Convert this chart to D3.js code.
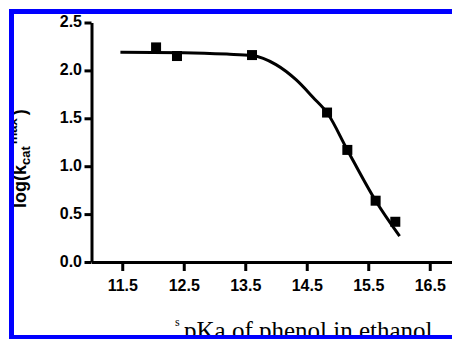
<!DOCTYPE html>
<html>
<head>
<meta charset="utf-8">
<script src="https://cdn.jsdelivr.net/npm/d3@7"></script>
<style>
  body { margin: 0; background: #fff; }
  svg { display: block; }
  .tick text { font-family: "Liberation Sans", Arial, sans-serif; font-weight: bold; font-size: 16px; }
</style>
</head>
<body>
<div id="chart"></div>
<script>
// measured points: pKa in ethanol vs log(kcat max)
const pointX = [12.05, 12.39, 13.61, 14.83, 15.16, 15.62, 15.94];
const pointY = [2.24, 2.15, 2.16, 1.56, 1.17, 0.64, 0.42];

// fitted curve
const curveX = [11.47, 12.5, 13.2, 13.61, 14.0, 14.33, 14.6, 14.84, 15.16, 15.62, 16.01];
const curveY = [2.19, 2.185, 2.17, 2.155, 2.06, 1.9, 1.72, 1.55, 1.17, 0.64, 0.27];

const xTicks = [11.5, 12.5, 13.5, 14.5, 15.5, 16.5];
const yTicks = [0.0, 0.5, 1.0, 1.5, 2.0, 2.5];

const width = 452;
const height = 339;

const svg = d3.select("#chart")
    .append("svg")
    .attr("width", width)
    .attr("height", height);

svg.append("rect").attr("width", width).attr("height", height).attr("fill", "#fff");

const x = d3.scaleLinear().domain([11, 17]).range([91.5, 460.5]);
const y = d3.scaleLinear().domain([0, 2.5]).range([262, 22.5]);

// axes
const yAxis = svg.append("g")
    .attr("transform", "translate(91.5,0)")
    .call(d3.axisLeft(y).tickValues(yTicks).tickFormat(d3.format(".1f")).tickSize(7).tickSizeOuter(0).tickPadding(2.5));

const xAxis = svg.append("g")
    .attr("transform", "translate(0,262)")
    .call(d3.axisBottom(x).tickValues(xTicks).tickFormat(d3.format(".1f")).tickSize(9).tickSizeOuter(0).tickPadding(9));

[xAxis, yAxis].forEach(a => {
    a.select(".domain").attr("stroke", "#000").attr("stroke-width", 3);
    a.selectAll(".tick line").attr("stroke", "#000").attr("stroke-width", 3);
    a.selectAll(".tick text").attr("fill", "#000");
});
yAxis.selectAll(".tick text").attr("dy", "0.28em");

// fitted line
const line = d3.line()
    .x(d => x(d[0]))
    .y(d => y(d[1]))
    .curve(d3.curveMonotoneX);

svg.append("path")
    .datum(curveX.map((d, i) => [d, curveY[i]]))
    .attr("d", line)
    .attr("fill", "none")
    .attr("stroke", "#000")
    .attr("stroke-width", 3);

// data points
svg.selectAll("rect.pt")
    .data(pointX.map((d, i) => [d, pointY[i]]))
    .enter().append("rect")
    .attr("class", "pt")
    .attr("x", d => x(d[0]) - 5)
    .attr("y", d => y(d[1]) - 5)
    .attr("width", 10)
    .attr("height", 10)
    .attr("fill", "#000");

// y label
const yLabel = svg.append("text")
    .attr("transform", "translate(26,208) rotate(-90)")
    .style("font-family", "'Liberation Sans', Arial, sans-serif")
    .style("font-weight", "bold")
    .style("font-size", "18px")
    .attr("fill", "#000");
yLabel.append("tspan").text("log(k");
yLabel.append("tspan").attr("dy", 4).style("font-size", "13px").text("cat");
yLabel.append("tspan").attr("dy", -13).attr("dx", 2).style("font-size", "13px").text("max");
yLabel.append("tspan").attr("dy", 9).attr("dx", 3).text(")");

// x label
const serif = "'Liberation Serif', 'Times New Roman', serif";
svg.append("text")
    .attr("x", 175).attr("y", 326)
    .style("font-family", serif).style("font-size", "12px")
    .text("s");
svg.append("text")
    .attr("x", 175).attr("y", 341)
    .style("font-family", serif).style("font-size", "12px")
    .text("s");
svg.append("text")
    .attr("x", 184).attr("y", 339)
    .style("font-family", serif).style("font-size", "25px")
    .text("pKa of phenol in ethanol");

// blue frame
svg.append("rect").attr("x", 9).attr("y", 9).attr("width", width - 9).attr("height", 5).attr("fill", "#0000ff");
svg.append("rect").attr("x", 9).attr("y", 9).attr("width", 5).attr("height", height - 9).attr("fill", "#0000ff");
svg.append("rect").attr("x", 9).attr("y", 335).attr("width", width - 9).attr("height", 4).attr("fill", "#0000ff");
</script>
</body>
</html>
